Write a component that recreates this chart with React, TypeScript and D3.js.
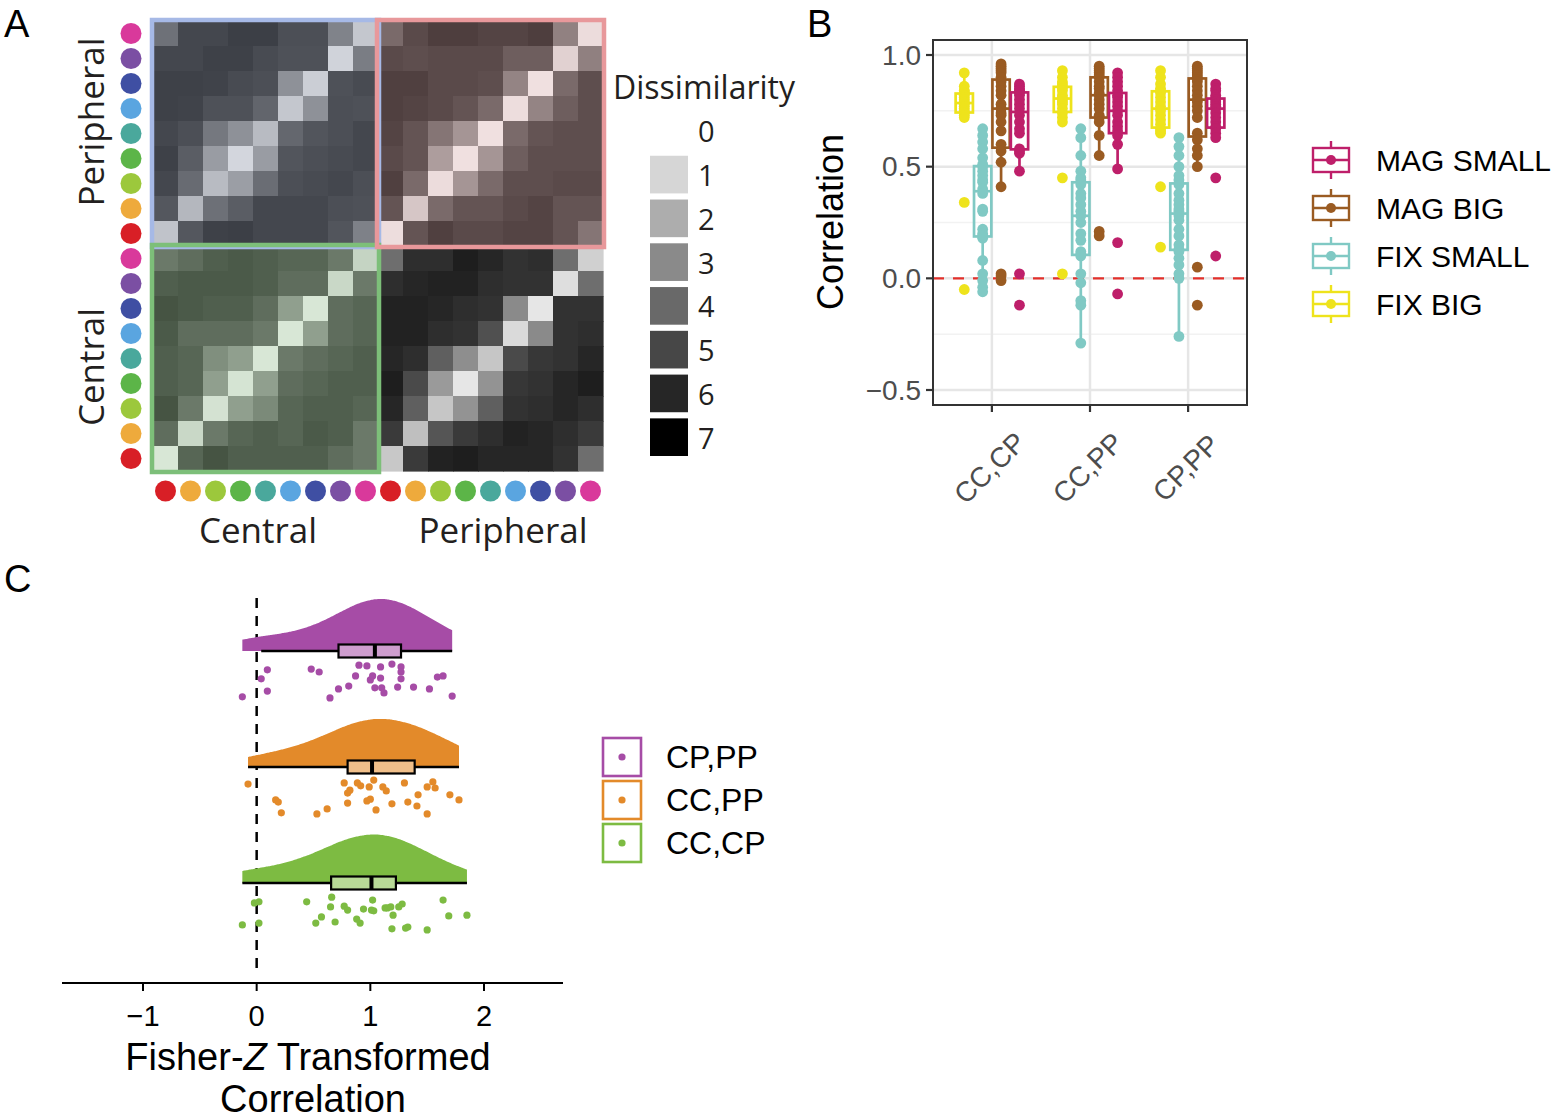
import React from "react";
import * as d3 from "d3";

// ---------------- Panel A data ----------------
// stimulus order along columns (left→right) and rows (bottom→top)
const stimulusNames = ["red", "orange", "yellow-green", "green", "teal", "light blue", "dark blue", "purple", "magenta"];
const stimulusColors = ["#d81f26", "#eeaa3c", "#9cc83c", "#5cb548", "#4aa89c", "#5aa5e0", "#3f4fa3", "#7b4fa3", "#d9399b"];
const conditionsA = ["Central", "Peripheral"];
// 18 x 18 dissimilarity matrix, rows top→bottom (Peripheral magenta..red, Central magenta..red)
// columns left→right (Central red..magenta, Peripheral red..magenta)
const dissimilarityRows = [
  [4.2, 5.75, 5.75, 6.05, 6.05, 5.5, 5.5, 3.55, 1.2, 4.35, 5.55, 6.0, 6.0, 5.75, 5.75, 6.0, 3.5, 0.5],
  [5.75, 5.75, 6.0, 6.0, 5.6, 5.4, 5.4, 0.85, 3.75, 5.55, 5.4, 5.55, 5.55, 5.55, 4.8, 4.8, 0.8, 3.55],
  [6.0, 6.0, 5.9, 5.6, 5.5, 3.0, 1.0, 5.4, 5.6, 5.9, 5.9, 5.55, 5.55, 5.4, 3.35, 0.35, 4.35, 5.4],
  [6.0, 5.9, 5.4, 5.4, 4.65, 1.2, 3.0, 5.5, 5.4, 5.9, 5.75, 5.55, 5.15, 4.35, 0.45, 3.35, 4.8, 5.4],
  [5.8, 5.5, 3.95, 3.0, 1.55, 4.6, 5.25, 5.5, 5.8, 5.75, 5.15, 3.95, 2.75, 0.35, 4.35, 5.15, 5.4, 5.4],
  [6.0, 4.95, 2.6, 0.75, 2.6, 5.25, 5.5, 5.6, 5.8, 5.55, 5.15, 2.45, 0.35, 2.75, 4.8, 5.4, 5.4, 5.4],
  [5.8, 4.4, 1.55, 2.55, 4.35, 5.45, 5.6, 5.8, 5.5, 5.9, 4.35, 0.5, 2.75, 4.35, 5.4, 5.4, 5.55, 5.55],
  [5.15, 1.7, 4.25, 4.95, 5.75, 5.8, 5.75, 5.5, 5.4, 5.15, 1.15, 4.35, 5.15, 5.15, 5.55, 5.75, 5.15, 5.15],
  [1.35, 5.15, 6.0, 6.05, 5.75, 5.75, 5.75, 5.25, 3.6, 0.45, 5.15, 5.9, 5.55, 5.55, 5.75, 5.75, 5.15, 3.95],
  [4.4, 4.9, 5.55, 5.75, 5.55, 5.25, 5.25, 4.4, 0.85, 3.85, 5.75, 5.75, 6.2, 6.0, 5.65, 5.75, 3.85, 1.15],
  [5.55, 5.75, 5.75, 5.75, 5.55, 4.9, 4.9, 0.7, 4.4, 5.75, 6.0, 6.1, 6.1, 5.75, 5.65, 5.65, 0.8, 3.85],
  [6.0, 5.75, 5.55, 5.55, 4.9, 2.8, 0.2, 4.9, 5.25, 6.1, 6.1, 6.0, 5.75, 5.65, 3.0, 0.6, 5.65, 5.65],
  [5.75, 4.9, 4.9, 4.9, 4.4, 0.2, 2.8, 4.9, 5.25, 6.1, 6.1, 5.75, 5.65, 4.75, 0.9, 3.0, 5.65, 5.75],
  [5.55, 5.25, 3.5, 2.8, 0.2, 4.4, 4.9, 5.25, 5.55, 6.0, 5.75, 4.3, 2.9, 1.4, 4.9, 5.5, 5.65, 6.0],
  [5.55, 5.25, 2.8, 0.3, 2.8, 4.9, 5.25, 5.55, 5.55, 6.2, 4.9, 2.55, 0.6, 2.75, 5.5, 5.65, 6.0, 6.2],
  [6.0, 4.4, 0.35, 2.8, 3.7, 5.25, 5.55, 5.55, 5.25, 6.0, 4.3, 1.4, 2.75, 4.3, 5.65, 5.75, 6.0, 5.75],
  [4.9, 0.7, 4.4, 5.25, 5.55, 5.25, 5.75, 5.55, 4.4, 5.4, 1.55, 4.6, 5.4, 5.75, 6.1, 6.0, 5.75, 5.4],
  [0.2, 5.25, 6.0, 5.55, 5.55, 5.55, 5.55, 4.9, 4.4, 1.35, 5.4, 6.1, 6.2, 6.0, 6.0, 6.0, 5.65, 3.85],
];
const legendLevels = [0, 1, 2, 3, 4, 5, 6, 7];
const legendGrays = ["#ffffff", "#d6d6d6", "#adadad", "#8a8a8a", "#696969", "#474747", "#262626", "#000000"];

// ---------------- Panel B data ----------------
const categoriesB = ["CC,CP", "CC,PP", "CP,PP"];
const seriesB = ["FIX BIG", "FIX SMALL", "MAG BIG", "MAG SMALL"];
const seriesColorsB = ["#eee31c", "#80c9c4", "#9a5b22", "#be1f6a"];
const fixBig = [
  [0.92, 0.86, 0.84, 0.84, 0.83, 0.82, 0.81, 0.80, 0.79, 0.78, 0.77, 0.76, 0.75, 0.74, 0.73, 0.72, 0.34, -0.05],
  [0.93, 0.90, 0.88, 0.87, 0.86, 0.85, 0.84, 0.82, 0.81, 0.80, 0.79, 0.78, 0.76, 0.74, 0.72, 0.70, 0.45, 0.02],
  [0.93, 0.90, 0.87, 0.85, 0.84, 0.83, 0.81, 0.79, 0.77, 0.75, 0.73, 0.71, 0.69, 0.67, 0.66, 0.65, 0.41, 0.14],
];
const fixSmall = [
  [0.67, 0.64, 0.61, 0.58, 0.54, 0.51, 0.50, 0.48, 0.46, 0.44, 0.43, 0.40, 0.38, 0.31, 0.30, 0.22, 0.20, 0.19, 0.18, 0.08, 0.02, -0.01, -0.04, -0.06],
  [0.67, 0.63, 0.55, 0.48, 0.45, 0.44, 0.42, 0.38, 0.36, 0.33, 0.30, 0.28, 0.25, 0.20, 0.17, 0.12, 0.11, 0.10, 0.02, -0.02, -0.10, -0.12, -0.29],
  [0.63, 0.59, 0.55, 0.50, 0.46, 0.44, 0.42, 0.38, 0.35, 0.33, 0.31, 0.30, 0.28, 0.26, 0.22, 0.19, 0.15, 0.13, 0.12, 0.09, 0.06, 0.02, 0.0, -0.26],
];
const magBig = [
  [0.96, 0.95, 0.94, 0.93, 0.92, 0.90, 0.88, 0.86, 0.84, 0.82, 0.78, 0.76, 0.74, 0.73, 0.70, 0.66, 0.60, 0.57, 0.52, 0.41, 0.02, 0.01, -0.01],
  [0.95, 0.94, 0.93, 0.92, 0.91, 0.90, 0.88, 0.86, 0.85, 0.83, 0.82, 0.80, 0.78, 0.76, 0.73, 0.72, 0.70, 0.64, 0.55, 0.21, 0.19],
  [0.95, 0.94, 0.93, 0.92, 0.91, 0.90, 0.89, 0.88, 0.86, 0.84, 0.82, 0.80, 0.79, 0.77, 0.75, 0.72, 0.65, 0.62, 0.58, 0.55, 0.50, 0.05, -0.12],
];
const magSmall = [
  [0.87, 0.86, 0.85, 0.84, 0.84, 0.83, 0.82, 0.80, 0.78, 0.76, 0.73, 0.70, 0.67, 0.65, 0.58, 0.57, 0.56, 0.48, 0.02, -0.12],
  [0.92, 0.90, 0.88, 0.86, 0.84, 0.82, 0.81, 0.79, 0.77, 0.75, 0.73, 0.70, 0.68, 0.66, 0.64, 0.60, 0.49, 0.16, -0.07],
  [0.87, 0.85, 0.84, 0.82, 0.81, 0.80, 0.79, 0.78, 0.77, 0.76, 0.74, 0.72, 0.70, 0.68, 0.67, 0.65, 0.63, 0.45, 0.10],
];
const yTicksB = [-0.5, 0, 0.5, 1.0];
const yMinorB = [-0.25, 0.25, 0.75];

// ---------------- Panel C data ----------------
const groupsC = ["CC,CP", "CC,PP", "CP,PP"];
const colorsC = ["#7dbb42", "#e38a2a", "#a64ca6"];
const zCCCP = [-0.126, -0.02, 0.02, 0.02, 0.44, 0.52, 0.57, 0.65, 0.66, 0.69, 0.77, 0.80, 0.88, 0.91, 0.94, 1.01, 1.02, 1.03, 1.13, 1.15, 1.18, 1.20, 1.25, 1.28, 1.19, 1.31, 1.33, 1.50, 1.64, 1.69, 1.85];
const jitterCCCP = [0.83, 0.22, 0.19, 0.78, 0.19, 0.78, 0.61, 0.33, 0.06, 0.75, 0.31, 0.42, 0.67, 0.78, 0.39, 0.42, 0.14, 0.44, 0.36, 0.36, 0.33, 0.56, 0.33, 0.25, 0.94, 0.92, 0.89, 0.97, 0.14, 0.58, 0.56];
const zCCPP = [-0.076, 0.167, 0.19, 0.217, 0.53, 0.62, 0.77, 0.80, 0.80, 0.82, 0.886, 0.915, 0.97, 0.99, 1.0, 1.03, 1.05, 1.11, 1.14, 1.19, 1.30, 1.33, 1.41, 1.42, 1.50, 1.50, 1.55, 1.57, 1.70, 1.78];
const jitterCCPP = [0.14, 0.58, 0.64, 0.94, 0.97, 0.83, 0.11, 0.67, 0.39, 0.31, 0.11, 0.19, 0.61, 0.22, 0.56, 0.03, 0.86, 0.22, 0.33, 0.69, 0.11, 0.64, 0.75, 0.44, 0.22, 0.97, 0.08, 0.25, 0.44, 0.58];
const zCPPP = [-0.126, 0.04, 0.094, 0.094, 0.48, 0.55, 0.645, 0.72, 0.81, 0.87, 0.90, 0.97, 1.0, 1.02, 1.04, 1.09, 1.09, 1.10, 1.12, 1.19, 1.24, 1.27, 1.27, 1.27, 1.38, 1.52, 1.59, 1.64, 1.72];
const jitterCPPP = [0.94, 0.44, 0.19, 0.78, 0.17, 0.25, 0.97, 0.72, 0.64, 0.36, 0.06, 0.08, 0.47, 0.36, 0.69, 0.11, 0.42, 0.69, 0.83, 0.03, 0.67, 0.11, 0.44, 0.25, 0.67, 0.72, 0.39, 0.36, 0.92];
const xTicksC = [-1, 0, 1, 2];

// ---------------- helpers ----------------
function boxStats(vals: number[]) {
  const s = vals.slice().sort(d3.ascending);
  const q1 = d3.quantile(s, 0.25) as number;
  const med = d3.quantile(s, 0.5) as number;
  const q3 = d3.quantile(s, 0.75) as number;
  const iqr = q3 - q1;
  const lo = d3.min(s.filter((v) => v >= q1 - 1.5 * iqr)) as number;
  const hi = d3.max(s.filter((v) => v <= q3 + 1.5 * iqr)) as number;
  return { q1, med, q3, lo, hi };
}
function nrd0(vals: number[]) {
  const s = vals.slice().sort(d3.ascending);
  const sd = d3.deviation(s) as number;
  const iqr = (d3.quantile(s, 0.75) as number) - (d3.quantile(s, 0.25) as number);
  const lo = Math.min(sd, iqr / 1.34);
  return 0.9 * lo * Math.pow(s.length, -0.2);
}
function kde(vals: number[], bw: number, xs: number[]) {
  return xs.map((x) => [x, d3.mean(vals, (v) => Math.exp(-0.5 * ((x - v) / bw) ** 2) / (bw * Math.sqrt(2 * Math.PI))) as number]);
}
const fmtMinus = (v: number, digits: number) => {
  const s = Math.abs(v).toFixed(digits);
  return v < 0 ? "\u2212" + s : s;
};

const FONT_A = "'Open Sans', 'Noto Sans', sans-serif";
const FONT_B = "'Liberation Sans', Arial, sans-serif";

function PanelA() {
  const xA = d3.scaleBand<number>().domain(d3.range(18)).range([153, 603]);
  const yA = d3.scaleBand<number>().domain(d3.range(18)).range([21, 471]);
  const gray = d3.scaleLinear<string>().domain(legendLevels).range(legendGrays).interpolate(d3.interpolateRgb).clamp(true);
  const tints = {
    TL: { color: "#9eadd0", a: 0.2 },
    TR: { color: "#ee9e9e", a: 0.2 },
    BL: { color: "#8fc088", a: 0.3 },
  } as any;
  const tintFor = (r: number, c: number) => (r < 9 ? (c < 9 ? tints.TL : tints.TR) : c < 9 ? tints.BL : null);
  const rowStim = (r: number) => (r < 9 ? 8 - r : 17 - r);
  const colStim = (c: number) => c % 9;
  const step = xA.step();
  const legY = d3.scaleBand<number>().domain(legendLevels).range([112, 456]).paddingInner(0.14);

  const quadRect = (r0: number, c0: number, stroke: string, key: string) => (
    <rect key={key} x={xA(c0)! - 1} y={yA(r0)! - 1} width={step * 9 + 2} height={step * 9 + 2} fill="none" stroke={stroke} strokeWidth={4.5} />
  );

  return (
    <g>
      {dissimilarityRows.map((row, r) =>
        row.map((v, c) => {
          const t = tintFor(r, c);
          const base = gray(v);
          const fill = t ? d3.interpolateRgb(base, t.color)(t.a) : base;
          return <rect key={`c${r}-${c}`} x={xA(c)} y={yA(r)} width={step + 0.6} height={step + 0.6} fill={fill} />;
        })
      )}
      {quadRect(0, 0, "#a6b9e6", "qTL")}
      {quadRect(9, 0, "#7dbf79", "qBL")}
      {quadRect(0, 9, "#e8989b", "qTR")}
      {d3.range(18).map((r) => (
        <circle key={`ld${r}`} cx={131} cy={yA(r)! + step / 2} r={10.5} fill={stimulusColors[rowStim(r)]} />
      ))}
      {d3.range(18).map((c) => (
        <circle key={`bd${c}`} cx={xA(c)! + step / 2} cy={491} r={10.5} fill={stimulusColors[colStim(c)]} />
      ))}
      <text transform={`translate(104,122) rotate(-90)`} textAnchor="middle" fontFamily={FONT_A} fontSize={35} fill="#231f20">{conditionsA[1]}</text>
      <text transform={`translate(104,367) rotate(-90)`} textAnchor="middle" fontFamily={FONT_A} fontSize={35} fill="#231f20">{conditionsA[0]}</text>
      <text x={258} y={543} textAnchor="middle" fontFamily={FONT_A} fontSize={35} fill="#231f20">{conditionsA[0]}</text>
      <text x={503} y={543} textAnchor="middle" fontFamily={FONT_A} fontSize={35} fill="#231f20">{conditionsA[1]}</text>
      {/* legend */}
      <text x={613} y={99} fontFamily={FONT_A} fontSize={32} fill="#231f20">Dissimilarity</text>
      {legendLevels.map((lv) => (
        <g key={`lg${lv}`}>
          <rect x={650} y={legY(lv)} width={38} height={legY.bandwidth()} fill={gray(lv)} />
          <text x={698} y={legY(lv)! + legY.bandwidth() / 2} dominantBaseline="central" fontFamily={FONT_A} fontSize={29} fill="#231f20">{lv}</text>
        </g>
      ))}
    </g>
  );
}

function PanelB() {
  const left = 933, right = 1247, top = 40, bottom = 405;
  const yB = d3.scaleLinear().domain([-0.5, 1.0]).range([390, 55]);
  const xB = d3.scalePoint<string>().domain(categoriesB).range([left, right]).padding(0.6);
  const dodge = xB.step() * 0.1875;
  const boxW = dodge * 0.94;
  const allSeries = [fixBig, fixSmall, magBig, magSmall];
  const legendOrder = seriesB.slice().reverse();
  const legY = d3.scalePoint<string>().domain(legendOrder).range([160, 304]);
  return (
    <g fontFamily={FONT_B}>
      <rect x={left} y={top} width={right - left} height={bottom - top} fill="#fff" />
      {yMinorB.map((v) => (
        <line key={`mn${v}`} x1={left} x2={right} y1={yB(v)} y2={yB(v)} stroke="#f2f2f2" strokeWidth={1.5} />
      ))}
      {yTicksB.map((v) => (
        <line key={`mj${v}`} x1={left} x2={right} y1={yB(v)} y2={yB(v)} stroke="#e6e6e6" strokeWidth={2.5} />
      ))}
      {categoriesB.map((c) => (
        <line key={`vg${c}`} x1={xB(c)} x2={xB(c)} y1={top} y2={bottom} stroke="#e6e6e6" strokeWidth={2.5} />
      ))}
      <line x1={left} x2={right} y1={yB(0)} y2={yB(0)} stroke="#e3302b" strokeWidth={2.2} strokeDasharray="11,9" />
      {categoriesB.map((cat, ci) =>
        allSeries.map((ser, si) => {
          const vals = ser[ci];
          const st = boxStats(vals);
          const cx = xB(cat)! + (si - 1.5) * dodge;
          const col = seriesColorsB[si];
          return (
            <g key={`b${ci}-${si}`}>
              <line x1={cx} x2={cx} y1={yB(st.hi)} y2={yB(st.q3)} stroke={col} strokeWidth={2.7} />
              <line x1={cx} x2={cx} y1={yB(st.q1)} y2={yB(st.lo)} stroke={col} strokeWidth={2.7} />
              <rect x={cx - boxW / 2} y={yB(st.q3)} width={boxW} height={yB(st.q1) - yB(st.q3)} fill="none" stroke={col} strokeWidth={2.7} />
              <line x1={cx - boxW / 2} x2={cx + boxW / 2} y1={yB(st.med)} y2={yB(st.med)} stroke={col} strokeWidth={2.7} />
              {vals.map((v, i) => (
                <circle key={i} cx={cx} cy={yB(v)} r={5.4} fill={col} />
              ))}
            </g>
          );
        })
      )}
      <rect x={left} y={top} width={right - left} height={bottom - top} fill="none" stroke="#333" strokeWidth={2} />
      {yTicksB.map((v) => (
        <g key={`yt${v}`}>
          <line x1={left - 7} x2={left} y1={yB(v)} y2={yB(v)} stroke="#333" strokeWidth={2.2} />
          <text x={left - 12} y={yB(v)} textAnchor="end" dominantBaseline="central" fontSize={28} fill="#4d4d4d">{fmtMinus(v, 1)}</text>
        </g>
      ))}
      {categoriesB.map((c) => (
        <g key={`xt${c}`}>
          <line x1={xB(c)} x2={xB(c)} y1={bottom} y2={bottom + 7} stroke="#333" strokeWidth={2.2} />
          <text transform={`translate(${xB(c)! - 2},${468}) rotate(-45)`} textAnchor="middle" dominantBaseline="central" fontSize={28} fill="#4d4d4d">{c}</text>
        </g>
      ))}
      <text transform={`translate(843,222) rotate(-90)`} textAnchor="middle" fontSize={36} fill="#000">Correlation</text>
      {legendOrder.map((name) => {
        const si = seriesB.indexOf(name);
        const col = seriesColorsB[si];
        const cy = legY(name)!;
        const cx = 1331;
        return (
          <g key={`lgB${name}`}>
            <line x1={cx} x2={cx} y1={cy - 19} y2={cy + 19} stroke={col} strokeWidth={2.4} />
            <rect x={cx - 18} y={cy - 12} width={36} height={24} fill="#fff" stroke={col} strokeWidth={2.4} />
            <line x1={cx - 18} x2={cx + 18} y1={cy} y2={cy} stroke={col} strokeWidth={2.4} />
            <circle cx={cx} cy={cy} r={5} fill={col} />
            <text x={1376} y={cy} dominantBaseline="central" fontSize={30} fill="#000">{name}</text>
          </g>
        );
      })}
    </g>
  );
}

function PanelC() {
  const xC = d3.scaleLinear().domain([-1, 2]).range([143, 484]);
  const yBase = d3.scalePoint<string>().domain(groupsC).range([883, 651]);
  const jitY = d3.scaleLinear().domain([0, 1]).range([12, 48]);
  const data = [zCCCP, zCCPP, zCPPP];
  const jits = [jitterCCCP, jitterCCPP, jitterCPPP];
  const adjust = 1.7;
  const dens = data.map((vals) => {
    const bw = nrd0(vals) * adjust;
    const mn = d3.min(vals)!, mx = d3.max(vals)!;
    const xs = d3.range(0, 121).map((i) => mn + ((mx - mn) * i) / 120);
    return kde(vals, bw, xs);
  });
  const maxD = d3.max(dens, (d) => d3.max(d, (p) => p[1]))!;
  const hScale = d3.scaleLinear().domain([0, maxD]).range([0, 52]);
  const legY = d3.scalePoint<string>().domain(groupsC.slice().reverse()).range([757, 843]);
  const axisY = 983;
  return (
    <g fontFamily={FONT_B}>
      <line x1={xC(0)} x2={xC(0)} y1={598} y2={975} stroke="#000" strokeWidth={2.5} strokeDasharray="10,8" />
      {groupsC.map((g, gi) => {
        const base = yBase(g)!;
        const col = colorsC[gi];
        const area = d3
          .area<number[]>()
          .x((p) => xC(p[0]))
          .y0(base)
          .y1((p) => base - hScale(p[1]))
          .curve(d3.curveBasis);
        const st = boxStats(data[gi]);
        const light = d3.interpolateRgb(col, "#ffffff")(0.45);
        return (
          <g key={`vg${g}`}>
            <path d={area(dens[gi] as any)!} fill={col} />
            <line x1={xC(st.lo)} x2={xC(st.hi)} y1={base} y2={base} stroke="#000" strokeWidth={2.5} />
            <rect x={xC(st.q1)} y={base - 6.5} width={xC(st.q3) - xC(st.q1)} height={13} fill={light} stroke="#000" strokeWidth={2.2} />
            <line x1={xC(st.med)} x2={xC(st.med)} y1={base - 6.5} y2={base + 6.5} stroke="#000" strokeWidth={4} />
            {data[gi].map((v, i) => (
              <circle key={i} cx={xC(v)} cy={base + jitY(jits[gi][i])} r={3.6} fill={col} />
            ))}
          </g>
        );
      })}
      <line x1={62} x2={563} y1={axisY} y2={axisY} stroke="#000" strokeWidth={2} />
      {xTicksC.map((t) => (
        <g key={`xc${t}`}>
          <line x1={xC(t)} x2={xC(t)} y1={axisY} y2={axisY + 8} stroke="#000" strokeWidth={2} />
          <text x={xC(t)} y={1026} textAnchor="middle" fontSize={29} fill="#000">{fmtMinus(t, 0)}</text>
        </g>
      ))}
      <text x={308} y={1070} textAnchor="middle" fontSize={38} fill="#000">
        Fisher-<tspan fontStyle="italic">Z</tspan> Transformed
      </text>
      <text x={313} y={1112} textAnchor="middle" fontSize={38} fill="#000">Correlation</text>
      {groupsC.slice().reverse().map((g) => {
        const gi = groupsC.indexOf(g);
        const cy = legY(g)!;
        return (
          <g key={`lc${g}`}>
            <rect x={603} y={cy - 19} width={38} height={38} fill="#fff" stroke={colorsC[gi]} strokeWidth={2.6} />
            <circle cx={622} cy={cy} r={3.6} fill={colorsC[gi]} />
            <text x={666} y={cy} dominantBaseline="central" fontSize={32} fill="#000">{g}</text>
          </g>
        );
      })}
    </g>
  );
}

export default function App() {
  return (
    <svg width={1559} height={1119} style={{ position: "absolute", left: 0, top: 0, background: "#fff" }}>
      <rect x={0} y={0} width={1559} height={1119} fill="#fff" />
      <text x={4} y={37} fontFamily={FONT_B} fontSize={38} fill="#000">A</text>
      <text x={807} y={37} fontFamily={FONT_B} fontSize={38} fill="#000">B</text>
      <text x={4} y={592} fontFamily={FONT_B} fontSize={38} fill="#000">C</text>
      <PanelA />
      <PanelB />
      <PanelC />
    </svg>
  );
}
